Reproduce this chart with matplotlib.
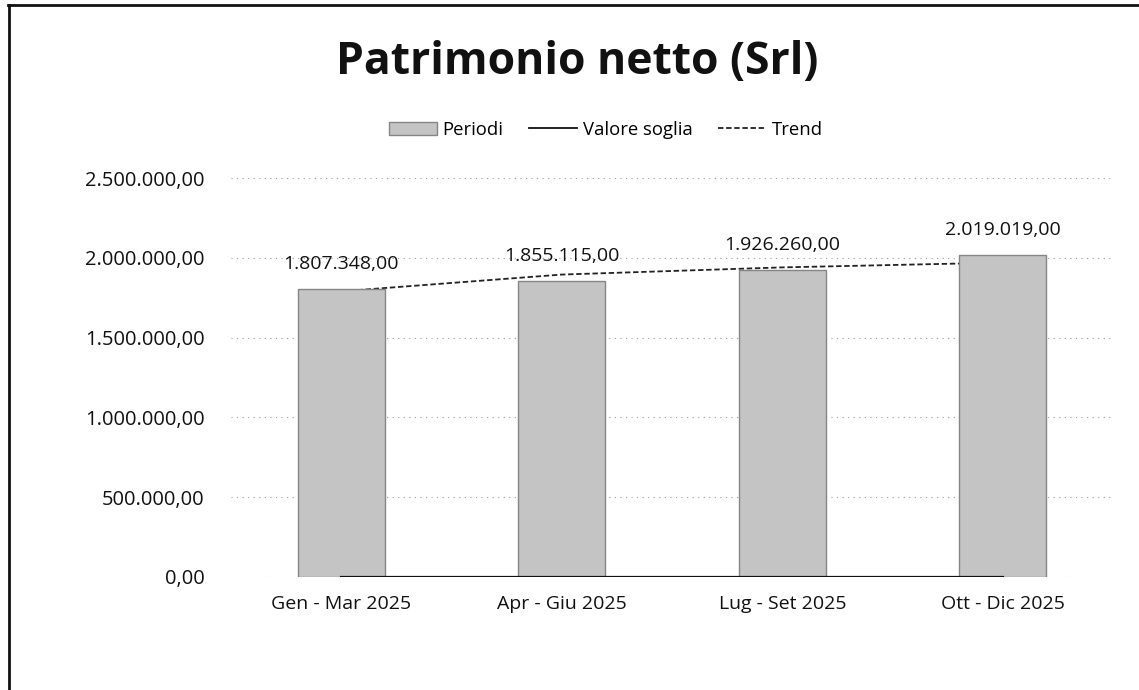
import matplotlib
matplotlib.use("Agg")
import matplotlib.pyplot as plt
from matplotlib.lines import Line2D
from matplotlib.patches import Patch

categories = ["Gen - Mar 2025", "Apr - Giu 2025", "Lug - Set 2025", "Ott - Dic 2025"]
periodi = [1807348.00, 1855115.00, 1926260.00, 2019019.00]
valore_soglia = [0, 0, 0, 0]
trend = [1790000, 1895000, 1940000, 1970000]
yticks = [0, 500000, 1000000, 1500000, 2000000, 2500000]


def fmt_it(v):
    s = f"{v:,.2f}"
    return s.replace(",", "X").replace(".", ",").replace("X", ".")


plt.rcParams['font.family'] = ['Open Sans', 'DejaVu Sans']

fig = plt.figure(figsize=(11.39, 6.90), dpi=100)
ax = fig.add_axes([0.2028, 0.1638, 0.7744, 0.5782])

x = list(range(len(categories)))
ax.plot(x, trend, color="#222222", linestyle=(0, (3, 1.5)), linewidth=1.3, zorder=1)
ax.bar(x, periodi, width=0.395, color="#c4c4c4", edgecolor="#858585",
       linewidth=1.0, zorder=2)
ax.plot(x, valore_soglia, color="#111111", linewidth=1.6, zorder=3)

for xi, v in zip(x, periodi):
    ax.annotate(fmt_it(v), (xi, v), xytext=(0, 18), textcoords="offset points",
                ha="center", va="center", fontsize=14, color="#111111")

ax.set_xlim(-0.5, 3.5)
ax.set_ylim(0, 2500000)
ax.set_yticks(yticks)
ax.set_yticklabels([fmt_it(v) for v in yticks], fontsize=14.5, color="#111111")
ax.set_xticks(x)
ax.set_xticklabels(categories, fontsize=14, color="#111111")
ax.tick_params(axis="both", length=0)
ax.tick_params(axis="y", pad=19)
ax.tick_params(axis="x", pad=13)
for s in ax.spines.values():
    s.set_visible(False)
ax.yaxis.grid(True, color="#9a9a9a", linestyle=(0, (1, 4)), linewidth=0.8)
ax.set_axisbelow(True)

fig.text(0.507, 0.91, "Patrimonio netto (Srl)", ha="center", va="center",
         fontsize=32, fontweight="bold", color="#111111")

handles = [
    Patch(facecolor="#c4c4c4", edgecolor="#858585", label="Periodi"),
    Line2D([0], [0], color="#111111", linewidth=1.3, label="Valore soglia"),
    Line2D([0], [0], color="#222222", linestyle=(0, (3, 1.5)), linewidth=1.3, label="Trend"),
]
fig.legend(handles=handles, loc="center", bbox_to_anchor=(0.532, 0.812), ncol=3,
           frameon=False, fontsize=13.3, handlelength=2.6, columnspacing=1.4,
           handletextpad=0.3)

# scanned page frame
fig.add_artist(Line2D([8 / 1139, 1.0], [1 - 5 / 690, 1 - 5 / 690], transform=fig.transFigure,
                      color="#111111", linewidth=2))
fig.add_artist(Line2D([9 / 1139, 9 / 1139], [1 - 5 / 690, 0.0], transform=fig.transFigure,
                      color="#111111", linewidth=2))

fig.savefig("out.png", dpi=100, facecolor="white")
